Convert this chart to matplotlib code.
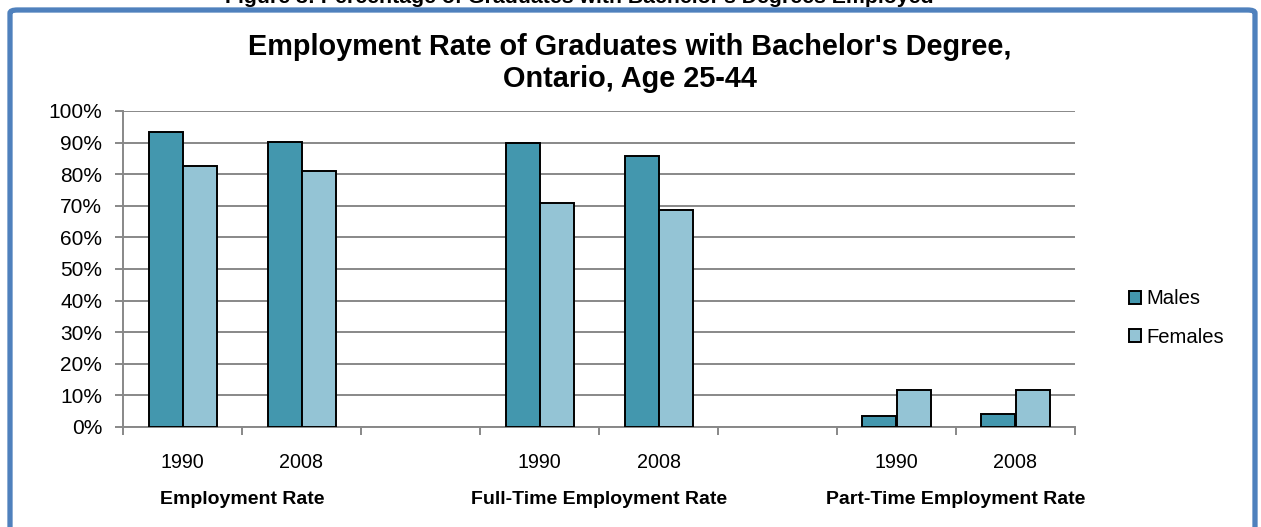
import matplotlib.pyplot as plt
import matplotlib.patches as mpatches
import matplotlib.transforms as mtransforms
from matplotlib.ticker import FixedLocator, PercentFormatter

plt.rcParams['font.family'] = ['Liberation Sans', 'DejaVu Sans']

# data
groups = ['Employment Rate', 'Full-Time Employment Rate', 'Part-Time Employment Rate']
years = ['1990', '2008']
males = [93.2, 90.1, 89.8, 85.9, 3.4, 4.2]
females = [82.7, 80.9, 70.9, 68.8, 11.7, 11.8]

male_color = '#4397AE'
female_color = '#94C4D5'
grid_color = '#888888'

fig = plt.figure(figsize=(12.61, 5.27), dpi=100)
ax = fig.add_axes([123 / 1261, 1 - 427 / 527, 952 / 1261, 316 / 527])

# each group has two year slots, then one empty slot
pos = [3 * g + j for g in range(len(groups)) for j in range(len(years))]
w = 1 / 3.5
ax.bar([p - w / 2 for p in pos], males, w, color=male_color, edgecolor='black',
       linewidth=1.4, label='Males', zorder=3)
ax.bar([p + w / 2 for p in pos], females, w, color=female_color, edgecolor='black',
       linewidth=1.4, label='Females', zorder=3)

ax.set_xlim(-0.5, 7.5)
ax.set_ylim(0, 100)
ax.yaxis.set_major_locator(FixedLocator(range(0, 101, 10)))
ax.yaxis.set_major_formatter(PercentFormatter(decimals=0))
ax.grid(axis='y', color=grid_color, linewidth=1.4, zorder=0)
ax.set_axisbelow(True)

ax.set_xticks(pos)
ax.set_xticklabels([years[i % 2] for i in range(len(pos))])
ax.set_xticks([x - 0.5 for x in range(9)], minor=True)
ax.tick_params(axis='x', which='major', length=0, pad=19, labelsize=14.2)
ax.tick_params(axis='x', which='minor', length=6, width=1.4, color=grid_color)
ax.tick_params(axis='y', length=6, width=1.4, color=grid_color, labelsize=15, pad=9)

for s in ['top', 'right']:
    ax.spines[s].set_visible(False)
for s in ['left', 'bottom']:
    ax.spines[s].set_color(grid_color)
    ax.spines[s].set_linewidth(1.4)

trans = mtransforms.blended_transform_factory(ax.transData, fig.transFigure)
for g, name in enumerate(groups):
    ax.text(3 * g + 0.5, 1 - 504 / 527, name, transform=trans, ha='center', va='baseline',
            fontsize=14, fontweight='bold')

fig.text(630 / 1261, 1 - 87 / 527,
         "Employment Rate of Graduates with Bachelor's Degree,\nOntario, Age 25-44",
         ha='center', va='baseline', fontsize=20.8, fontweight='bold', linespacing=1.2)

fig.text(579 / 1261, 1 - 3 / 527, "Figure 3: Percentage of Graduates with Bachelor's Degrees Employed",
         ha='center', va='baseline', fontsize=15.3, fontweight='bold')

leg = fig.legend(loc='center left', bbox_to_anchor=(1129 / 1261, 1 - 318 / 527),
                 frameon=False, fontsize=14.6, handlelength=0.6, handleheight=0.6,
                 handletextpad=0.25, labelspacing=0.95, borderpad=0, borderaxespad=0)

# blue rounded frame around the chart
frame = mpatches.FancyBboxPatch((10 / 1261, -0.2), 1245 / 1261, 1.2 - 10 / 527,
                                boxstyle='round,pad=0,rounding_size=0.006',
                                transform=fig.transFigure, fill=False,
                                edgecolor='#4F81BD', linewidth=3.8)
fig.patches.append(frame)

fig.savefig('out.png', dpi=100)
